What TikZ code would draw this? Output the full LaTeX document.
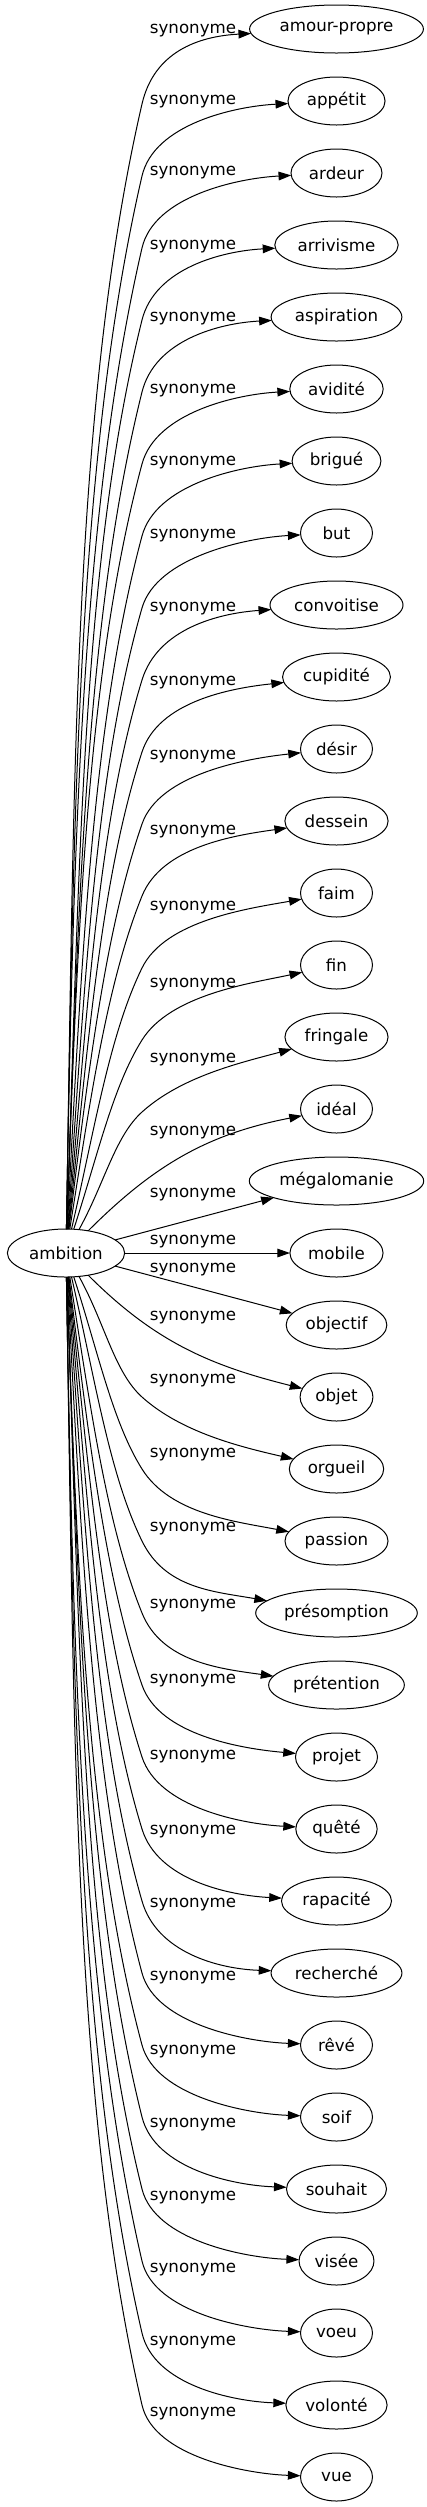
\documentclass[tikz,border=0pt]{standalone}
\usepackage{fontspec}
\setmainfont{DejaVu Sans}
\usetikzlibrary{arrows.meta, positioning, shapes.geometric}

\begin{document}
\begin{tikzpicture}[x=0.75pt, y=0.75pt,
    term/.style={draw, ellipse, line width=0.75pt, minimum width=54pt,
                 minimum height=36pt, inner xsep=3.5pt, inner ysep=3pt,
                 outer sep=0pt, font=\fontsize{12.5}{15}\selectfont},
    rel/.style={inner sep=0pt, font=\fontsize{12.5}{15}\selectfont},
    link/.style={-{Triangle[length=9.5pt, width=6.5pt]}, line width=0.75pt,
                 in looseness=0.7}
]
    \useasboundingbox (0,0) rectangle (427,-2507);

    \node[term] (ambition) at (66,-1253) {ambition};

    \node[term] (amourpropre) at (336.5,-29) {amour-propre};
    \node[term, below=18pt of amourpropre] (appetit) {appétit};
    \node[term, below=18pt of appetit] (ardeur) {ardeur};
    \node[term, below=18pt of ardeur] (arrivisme) {arrivisme};
    \node[term, below=18pt of arrivisme] (aspiration) {aspiration};
    \node[term, below=18pt of aspiration] (avidite) {avidité};
    \node[term, below=18pt of avidite] (brigue) {brigué};
    \node[term, below=18pt of brigue] (but) {but};
    \node[term, below=18pt of but] (convoitise) {convoitise};
    \node[term, below=18pt of convoitise] (cupidite) {cupidité};
    \node[term, below=18pt of cupidite] (desir) {désir};
    \node[term, below=18pt of desir] (dessein) {dessein};
    \node[term, below=18pt of dessein] (faim) {faim};
    \node[term, below=18pt of faim] (fin) {fin};
    \node[term, below=18pt of fin] (fringale) {fringale};
    \node[term, below=18pt of fringale] (ideal) {idéal};
    \node[term, below=18pt of ideal] (megalomanie) {mégalomanie};
    \node[term, below=18pt of megalomanie] (mobile) {mobile};
    \node[term, below=18pt of mobile] (objectif) {objectif};
    \node[term, below=18pt of objectif] (objet) {objet};
    \node[term, below=18pt of objet] (orgueil) {orgueil};
    \node[term, below=18pt of orgueil] (passion) {passion};
    \node[term, below=18pt of passion] (presomption) {présomption};
    \node[term, below=18pt of presomption] (pretention) {prétention};
    \node[term, below=18pt of pretention] (projet) {projet};
    \node[term, below=18pt of projet] (quete) {quêté};
    \node[term, below=18pt of quete] (rapacite) {rapacité};
    \node[term, below=18pt of rapacite] (recherche) {recherché};
    \node[term, below=18pt of recherche] (reve) {rêvé};
    \node[term, below=18pt of reve] (soif) {soif};
    \node[term, below=18pt of soif] (souhait) {souhait};
    \node[term, below=18pt of souhait] (visee) {visée};
    \node[term, below=18pt of visee] (voeu) {voeu};
    \node[term, below=18pt of voeu] (volonte) {volonté};
    \node[term, below=18pt of volonte] (vue) {vue};

    \node[rel] (s-amourpropre) at (193,-31) {synonyme};
    \node[rel] (s-appetit) at (193,-102) {synonyme};
    \node[rel] (s-ardeur) at (193,-173) {synonyme};
    \node[rel] (s-arrivisme) at (193,-247) {synonyme};
    \node[rel] (s-aspiration) at (193,-319) {synonyme};
    \node[rel] (s-avidite) at (193,-391) {synonyme};
    \node[rel] (s-brigue) at (193,-463) {synonyme};
    \node[rel] (s-but) at (193,-536) {synonyme};
    \node[rel] (s-convoitise) at (193,-609) {synonyme};
    \node[rel] (s-cupidite) at (193,-683) {synonyme};
    \node[rel] (s-desir) at (193,-757) {synonyme};
    \node[rel] (s-dessein) at (193,-832) {synonyme};
    \node[rel] (s-faim) at (193,-908) {synonyme};
    \node[rel] (s-fin) at (193,-985) {synonyme};
    \node[rel] (s-fringale) at (193,-1060) {synonyme};
    \node[rel] (s-ideal) at (193,-1133) {synonyme};
    \node[rel] (s-megalomanie) at (193,-1195) {synonyme};
    \node[rel] (s-mobile) at (193,-1242) {synonyme};
    \node[rel] (s-objectif) at (193,-1270) {synonyme};
    \node[rel] (s-objet) at (193,-1318) {synonyme};
    \node[rel] (s-orgueil) at (193,-1381) {synonyme};
    \node[rel] (s-passion) at (193,-1455) {synonyme};
    \node[rel] (s-presomption) at (193,-1529) {synonyme};
    \node[rel] (s-pretention) at (193,-1606) {synonyme};
    \node[rel] (s-projet) at (193,-1681) {synonyme};
    \node[rel] (s-quete) at (193,-1757) {synonyme};
    \node[rel] (s-rapacite) at (193,-1832) {synonyme};
    \node[rel] (s-recherche) at (193,-1905) {synonyme};
    \node[rel] (s-reve) at (193,-1978) {synonyme};
    \node[rel] (s-soif) at (193,-2052) {synonyme};
    \node[rel] (s-souhait) at (193,-2125) {synonyme};
    \node[rel] (s-visee) at (193,-2198) {synonyme};
    \node[rel] (s-voeu) at (193,-2270) {synonyme};
    \node[rel] (s-volonte) at (193,-2343) {synonyme};
    \node[rel] (s-vue) at (193,-2414) {synonyme};

    % upper fan
    \draw[link] (ambition) to[out=89, in=-103] (142,-104) to[out=77, in=-177, distance=40pt] (amourpropre);
    \draw[link] (ambition) to[out=89, in=-103] (142,-176) to[out=77, in=-177, distance=40pt] (appetit);
    \draw[link] (ambition) to[out=89, in=-103] (142,-248) to[out=77, in=-177, distance=40pt] (ardeur);
    \draw[link] (ambition) to[out=88, in=-104] (142,-320) to[out=76, in=-177, distance=40pt] (arrivisme);
    \draw[link] (ambition) to[out=88, in=-104] (142,-392) to[out=76, in=-177, distance=40pt] (aspiration);
    \draw[link] (ambition) to[out=88, in=-105] (142,-464) to[out=75, in=-177, distance=40pt] (avidite);
    \draw[link] (ambition) to[out=87, in=-105] (142,-536) to[out=75, in=-177, distance=40pt] (brigue);
    \draw[link] (ambition) to[out=86, in=-106] (142,-608) to[out=74, in=-177, distance=40pt] (but);
    \draw[link] (ambition) to[out=85, in=-107] (142,-680) to[out=73, in=-176, distance=40pt] (convoitise);
    \draw[link] (ambition) to[out=84, in=-108] (142,-752) to[out=72, in=-174, distance=40pt] (cupidite);
    \draw[link] (ambition) to[out=83, in=-109] (142,-824) to[out=71, in=-174, distance=40pt] (desir);
    \draw[link] (ambition) to[out=81, in=-112] (142,-896) to[out=68, in=-172, distance=40pt] (dessein);
    \draw[link] (ambition) to[out=77, in=-116] (142,-968) to[out=64, in=-170, distance=40pt] (faim);
    \draw[link] (ambition) to[out=72, in=-122] (142,-1040) to[out=58, in=-168, distance=40pt] (fin);
    \draw[link] (ambition) to[out=61, in=-138] (142,-1112) to[out=42, in=-165, distance=40pt] (fringale);
    \draw[link] (ambition) to[out=45, in=-169, looseness=1] (ideal);
    % middle
    \draw[link] (ambition) -- (megalomanie);
    \draw[link] (ambition) -- (mobile);
    \draw[link] (ambition) -- (objectif);
    \draw[link] (ambition) to[out=-45, in=166, looseness=1] (objet);
    % lower fan
    \draw[link] (ambition) to[out=-61, in=138] (142,-1397) to[out=-42, in=167, distance=40pt] (orgueil);
    \draw[link] (ambition) to[out=-72, in=122] (142,-1469) to[out=-58, in=169, distance=40pt] (passion);
    \draw[link] (ambition) to[out=-77, in=116] (142,-1541) to[out=-64, in=170, distance=40pt] (presomption);
    \draw[link] (ambition) to[out=-81, in=112] (142,-1613) to[out=-68, in=172, distance=40pt] (pretention);
    \draw[link] (ambition) to[out=-83, in=109] (142,-1685) to[out=-71, in=175, distance=40pt] (projet);
    \draw[link] (ambition) to[out=-84, in=108] (142,-1757) to[out=-72, in=177, distance=40pt] (quete);
    \draw[link] (ambition) to[out=-85, in=107] (142,-1829) to[out=-73, in=177, distance=40pt] (rapacite);
    \draw[link] (ambition) to[out=-86, in=106] (142,-1901) to[out=-74, in=178, distance=40pt] (recherche);
    \draw[link] (ambition) to[out=-87, in=105] (142,-1973) to[out=-75, in=178, distance=40pt] (reve);
    \draw[link] (ambition) to[out=-88, in=105] (142,-2045) to[out=-75, in=178, distance=40pt] (soif);
    \draw[link] (ambition) to[out=-88, in=104] (142,-2117) to[out=-76, in=178, distance=40pt] (souhait);
    \draw[link] (ambition) to[out=-88, in=104] (142,-2189) to[out=-76, in=178, distance=40pt] (visee);
    \draw[link] (ambition) to[out=-89, in=103] (142,-2261) to[out=-77, in=178, distance=40pt] (voeu);
    \draw[link] (ambition) to[out=-89, in=103] (142,-2333) to[out=-77, in=178, distance=40pt] (volonte);
    \draw[link] (ambition) to[out=-89, in=103] (142,-2405) to[out=-77, in=178, distance=40pt] (vue);
\end{tikzpicture}
\end{document}
